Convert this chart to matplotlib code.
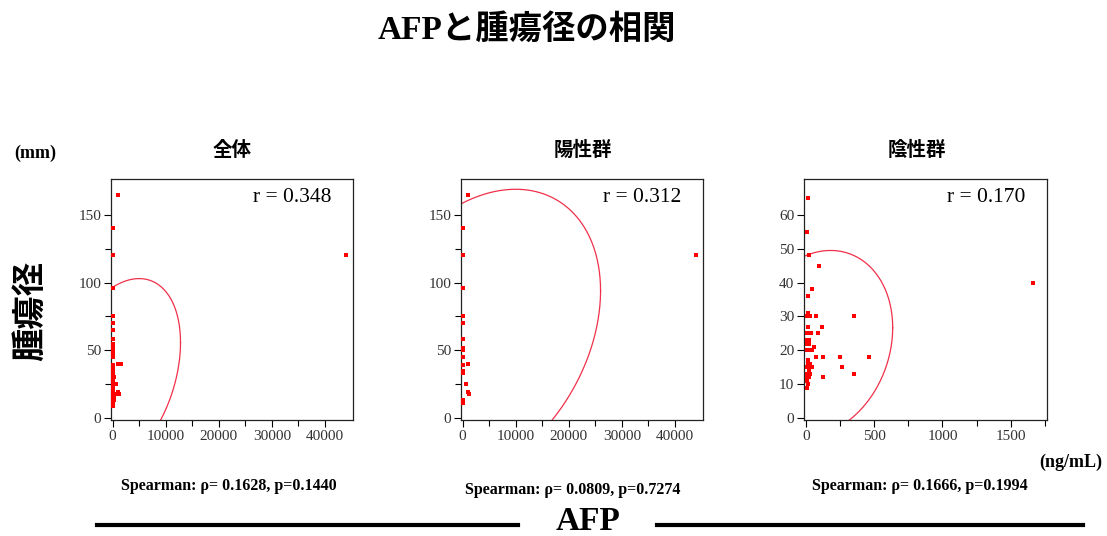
import numpy as np
import matplotlib.pyplot as plt
from matplotlib.lines import Line2D

plt.rcParams['font.family'] = ['Liberation Serif', 'Noto Sans CJK JP', 'DejaVu Sans']

# ====== データ ======
# 陽性群 (AFP ng/mL, 腫瘍径 mm)
pos_afp = [1000, 100, 100, 44000, 150, 100, 100, 100, 80, 120, 60, 1000, 60, 100, 120, 700, 1000, 1200, 100, 150]
pos_size = [165, 140, 120, 120, 96, 75, 70, 58, 52, 50, 45, 40, 39, 35, 33, 25, 19, 18, 13, 11]

# 陰性群
neg_afp = [15, 10, 20, 95, 40, 15, 1660, 15, 10, 30, 75, 355, 15, 120, 5, 30, 37, 85,
           5, 15, 25, 5, 25, 55, 5, 15, 30, 40, 75, 125, 250, 460, 15, 15, 30, 260,
           5, 20, 40, 20, 5, 15, 30, 355, 5, 25, 125, 10, 15, 5, 10]
neg_size = [65, 55, 48, 45, 38, 36, 40, 31, 30, 30, 30, 30, 27, 27, 25, 25, 25, 25,
            23, 23, 23, 22, 22, 21, 20, 20, 20, 20, 18, 18, 18, 18, 17, 16, 16, 15,
            15, 15, 15, 14, 13, 13, 13, 13, 12, 12, 12, 11, 10, 9, 9]

# 全体 = 陽性 + 陰性
all_afp = pos_afp + neg_afp
all_size = pos_size + neg_size

panel_titles = ['全体', '陽性群', '陰性群']
pearson_r = [0.348, 0.312, 0.170]
spearman_rho = ['0.1628', '0.0809', '0.1666']
spearman_p = ['0.1440', '0.7274', '0.1994']

# 95% 確率楕円のパラメータ (平均, 標準偏差)
ell_mx = [837, 2744, 87]
ell_my = [30.5, 60.0, 22.0]
ell_sx = [4887, 9500, 223.9]
ell_sy = [29.6, 44.5, 11.23]

xlims = [(-300, 45300), (-300, 45300), (-15, 1766)]
ylims = [(-1.5, 176.5), (-1.5, 176.5), (-0.6, 70.6)]
xticks = [[0, 10000, 20000, 30000, 40000]] * 2 + [[0, 500, 1000, 1500]]
xminor = [[5000, 15000, 25000, 35000]] * 2 + [[250, 750, 1250, 1750]]
yticks = [[0, 50, 100, 150]] * 2 + [[0, 10, 20, 30, 40, 50, 60]]
yminor = [[25, 75, 125], [25, 75, 125], []]

data = [(all_afp, all_size), (pos_afp, pos_size), (neg_afp, neg_size)]

# ====== 描画 ======
W, H = 1107, 536
fig = plt.figure(figsize=(W / 100, H / 100), dpi=100)

lefts = [111, 461, 804]
widths = [242, 242, 243]
title_x = [232, 583, 917]
sp_pos = [(229, 486), (573, 490), (920, 486)]

k = np.sqrt(5.991)
t = np.linspace(0, 2 * np.pi, 400)

for i in range(3):
    ax = fig.add_axes([lefts[i] / W, (H - 420) / H, widths[i] / W, 241 / H])
    x, y = data[i]
    ax.scatter(x, y, marker='s', s=6, color='#ff0000', linewidths=0, zorder=3)

    r = pearson_r[i]
    ex = ell_mx[i] + k * ell_sx[i] * np.cos(t)
    ey = ell_my[i] + k * ell_sy[i] * (r * np.cos(t) + np.sqrt(1 - r ** 2) * np.sin(t))
    ax.plot(ex, ey, color='#f0304a', lw=0.9)

    ax.set_xlim(xlims[i])
    ax.set_ylim(ylims[i])
    ax.set_xticks(xticks[i])
    ax.set_xticks(xminor[i], minor=True)
    ax.set_yticks(yticks[i])
    ax.set_yticks(yminor[i], minor=True)
    ax.tick_params(which='major', length=5, width=0.8, labelsize=11, labelcolor='#333333', pad=2)
    ax.tick_params(which='minor', length=4, width=0.8)
    for s in ax.spines.values():
        s.set_linewidth(0.9)
        s.set_color('#222222')

    ax.text(0.91, 0.925, f'r = {r:.3f}', transform=ax.transAxes, ha='right', va='center',
            fontsize=15.5, family='Liberation Serif')

    fig.text(title_x[i] / W, 1 - 150 / H, panel_titles[i], ha='center', va='center',
             fontsize=14, fontweight='bold', family=['Noto Sans CJK JP'])
    fig.text(sp_pos[i][0] / W, 1 - sp_pos[i][1] / H,
             f'Spearman: ρ= {spearman_rho[i]}, p={spearman_p[i]}',
             ha='center', va='center', fontsize=11.5, fontweight='bold')

fig.text(527 / W, 1 - 30 / H, 'AFPと腫瘍径の相関', ha='center', va='center',
         fontsize=24, fontweight='bold')
fig.text(35 / W, 1 - 153 / H, '(mm)', ha='center', va='center', fontsize=13, fontweight='bold')
fig.text(31 / W, 1 - 311 / H, '腫瘍径', ha='center', va='center', rotation=90,
         fontsize=24, fontweight='bold', family=['Noto Sans CJK JP'])
fig.text(1071 / W, 1 - 462 / H, '(ng/mL)', ha='center', va='center', fontsize=13, fontweight='bold')
fig.text(588 / W, 1 - 522 / H, 'AFP', ha='center', va='center', fontsize=24, fontweight='bold')

fig.add_artist(Line2D([97 / W, 518 / W], [1 - 525 / H] * 2, color='black', lw=3))
fig.add_artist(Line2D([657 / W, 1083 / W], [1 - 525 / H] * 2, color='black', lw=3))

fig.savefig('out.png', dpi=100)
